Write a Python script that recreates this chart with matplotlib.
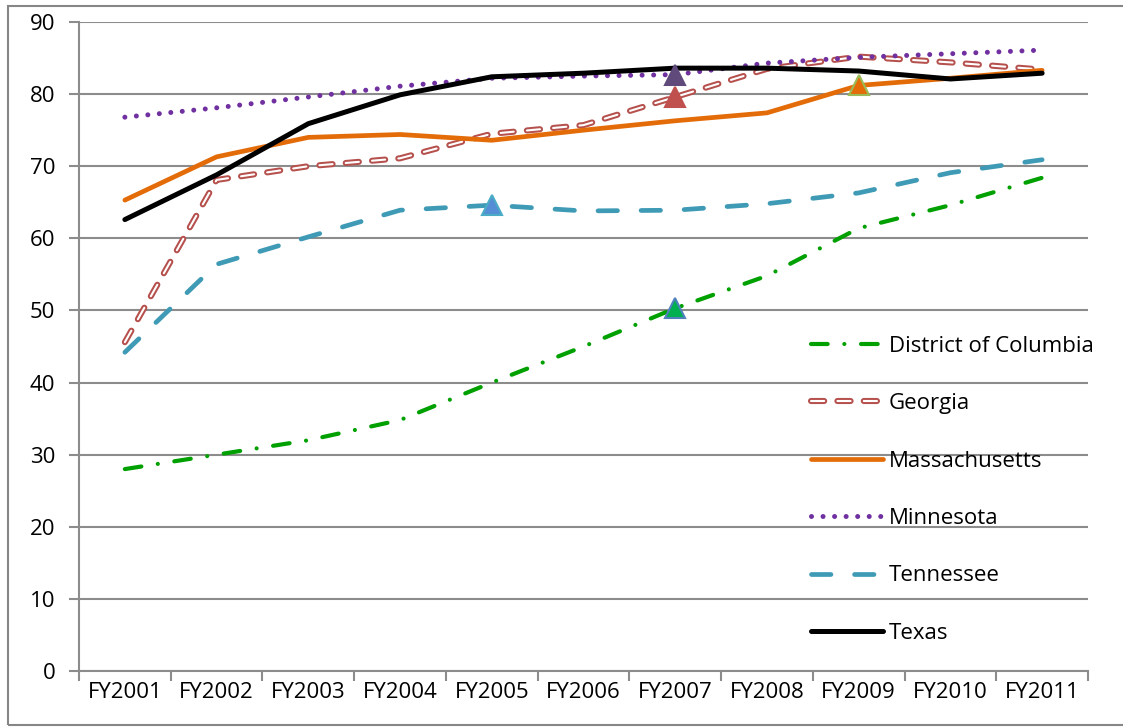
import matplotlib.pyplot as plt
import matplotlib.patheffects as pe
from matplotlib.patches import Rectangle

plt.rcParams['font.family'] = ['Open Sans', 'DejaVu Sans']
plt.rcParams['lines.scale_dashes'] = False

years = ['FY2001', 'FY2002', 'FY2003', 'FY2004', 'FY2005', 'FY2006',
         'FY2007', 'FY2008', 'FY2009', 'FY2010', 'FY2011']

dc = [28.0, 30.0, 32.0, 34.8, 40.0, 45.0, 50.3, 54.8, 61.4, 64.6, 68.4]
georgia = [45.6, 68.1, 70.0, 71.1, 74.5, 75.7, 79.6, 83.5, 85.2, 84.4, 83.4]
massachusetts = [65.3, 71.3, 74.0, 74.4, 73.6, 75.0, 76.3, 77.4, 81.2, 82.2, 83.3]
minnesota = [76.8, 78.1, 79.6, 81.1, 82.2, 82.5, 82.7, 84.3, 85.1, 85.6, 86.1]
tennessee = [44.2, 56.4, 60.2, 63.9, 64.6, 63.8, 63.9, 64.8, 66.3, 69.1, 70.9]
texas = [62.6, 68.8, 75.9, 79.9, 82.4, 82.9, 83.6, 83.6, 83.2, 82.1, 82.9]

# highlighted points: (series, year index, fill, edge)
highlights = [
    (tennessee, 4, '#558ed5', '#4bacc6'),
    (dc, 6, '#00b050', '#4f81bd'),
    (georgia, 6, '#c0504d', '#c0504d'),
    (minnesota, 6, '#604a7b', '#604a7b'),
    (massachusetts, 8, '#e36c09', '#9bbb59'),
]

x = list(range(len(years)))

fig = plt.figure(figsize=(11.23, 7.28), dpi=100)
ax = fig.add_axes([79 / 1123, 57 / 728, 1009 / 1123, 649 / 728])

fig.patches.append(Rectangle((8 / 1123, 3 / 728), 1.2, 719 / 728,
                             transform=fig.transFigure, fill=False,
                             edgecolor='#868686', linewidth=1.5, zorder=0))

ax.plot(x, dc, color='#00a000', linewidth=3.0, dash_capstyle='round',
        dashes=(12, 12, 0.01, 12), label='District of Columbia')
ax.plot(x, georgia, color='white', linewidth=1.5, dash_capstyle='round',
        dashes=(9.5, 9.5),
        path_effects=[pe.Stroke(linewidth=4.4, foreground='#b5504d'), pe.Normal()],
        label='Georgia')
ax.plot(x, massachusetts, color='#e36c09', linewidth=3.4,
        solid_capstyle='round', label='Massachusetts')
ax.plot(x, minnesota, color='#7030a0', linewidth=3.6, dash_capstyle='round',
        dashes=(0.01, 8.3), label='Minnesota')
ax.plot(x, tennessee, color='#3f9bb5', linewidth=3.4, dash_capstyle='round',
        dashes=(14, 17), label='Tennessee')
ax.plot(x, texas, color='black', linewidth=3.6, solid_capstyle='round',
        label='Texas')

for series, i, face, edge in highlights:
    ax.plot(x[i], series[i], marker='^', markersize=14, color=face,
            markeredgecolor=edge, markeredgewidth=1.5, zorder=5)

ax.set_ylim(0, 90)
ax.set_yticks(range(0, 91, 10))
ax.set_xlim(-0.5, len(years) - 0.5)
ax.set_xticks([i - 0.5 for i in range(len(years) + 1)])
ax.set_xticklabels([])
ax.set_xticks(x, minor=True)
ax.set_xticklabels(years, minor=True)

ax.grid(axis='y', color='#8c8c8c', linewidth=1.5)
ax.set_axisbelow(True)
for side in ['top', 'right']:
    ax.spines[side].set_visible(False)
for side in ['left', 'bottom']:
    ax.spines[side].set_color('#8c8c8c')
    ax.spines[side].set_linewidth(1.5)

ax.tick_params(axis='both', which='major', color='#8c8c8c', width=1.5,
               length=7, labelsize=16)
ax.tick_params(axis='x', which='minor', length=0, labelsize=16, pad=8)
ax.tick_params(axis='y', pad=10)

leg = ax.legend(loc='lower left', bbox_to_anchor=(0.7056, 0.011), frameon=False,
                fontsize=16, handlelength=3.25, handletextpad=0.25,
                labelspacing=1.64)

fig.savefig('out.png', dpi=100)
